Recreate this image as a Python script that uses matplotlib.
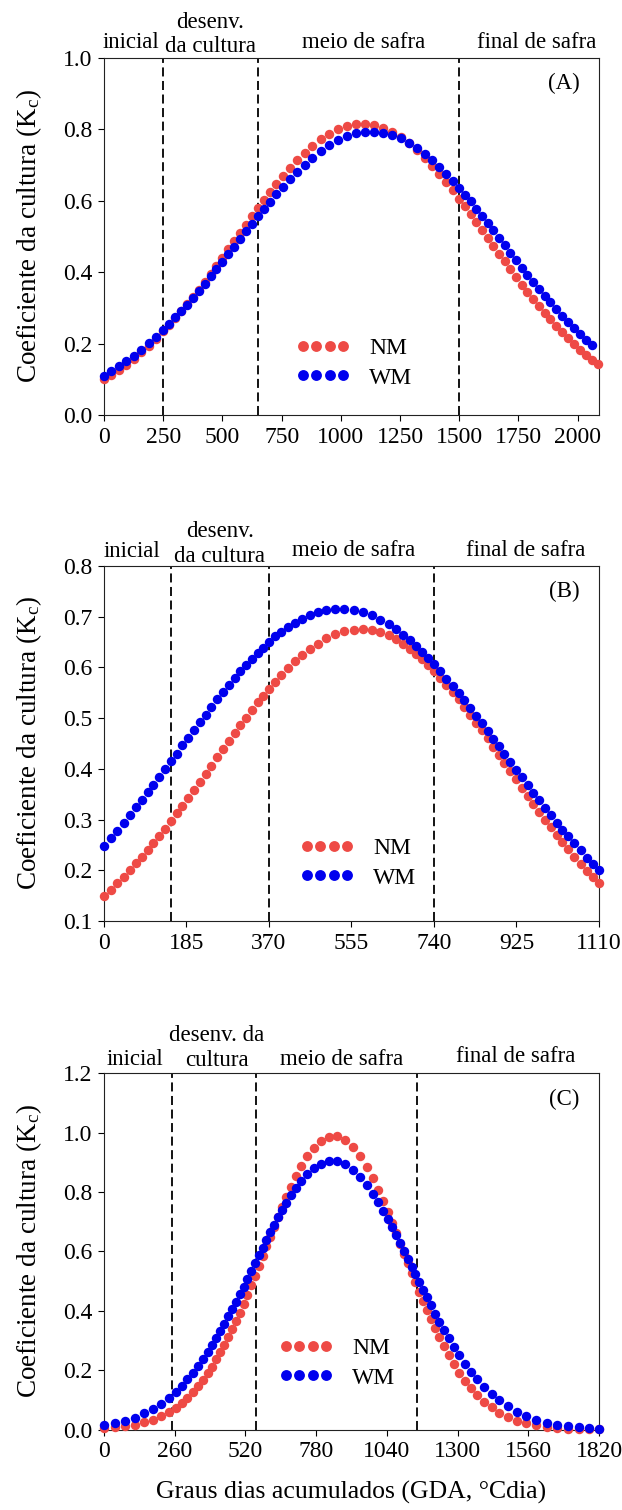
import matplotlib
matplotlib.use("Agg")
import matplotlib.pyplot as plt
from matplotlib.ticker import FormatStrFormatter
from matplotlib.transforms import blended_transform_factory

plt.rcParams["font.family"] = ["Liberation Serif", "DejaVu Serif"]
plt.rcParams["mathtext.fontset"] = "custom"
plt.rcParams["mathtext.rm"] = "Liberation Serif"
plt.rcParams["mathtext.it"] = "Liberation Serif:italic"

NM_COLOR = "#EE4A45"
WM_COLOR = "#0000EE"

# ---- (A) ----
gda_a = [0, 31, 62, 94, 125, 156, 188, 219, 250,
         275, 300, 325, 350, 375, 400, 425, 450, 475, 500, 525, 550, 575, 600, 625, 650,
         675, 701, 728, 756, 785, 815, 847, 880, 915, 951, 988, 1026, 1064, 1103, 1142,
         1180, 1217, 1253, 1288, 1322, 1355, 1386, 1416, 1445, 1473, 1500,
         1524, 1548, 1572, 1596, 1620, 1644, 1668, 1692, 1716, 1740, 1764, 1788, 1812,
         1836, 1860, 1884, 1909, 1934, 1959, 1984, 2009, 2034, 2059, 2084]
kc_nm_a = [0.100, 0.112, 0.126, 0.141, 0.157, 0.175, 0.194, 0.213, 0.234,
           0.252, 0.271, 0.290, 0.310, 0.330, 0.351, 0.373, 0.395, 0.418, 0.441, 0.464,
           0.487, 0.510, 0.533, 0.556, 0.579,
           0.601, 0.624, 0.647, 0.669, 0.692, 0.713, 0.734, 0.754, 0.772, 0.788, 0.800,
           0.809, 0.814, 0.815, 0.811, 0.803, 0.792, 0.778, 0.761, 0.741, 0.720, 0.698,
           0.676, 0.652, 0.629, 0.606,
           0.584, 0.563, 0.541, 0.519, 0.496, 0.474, 0.452, 0.430, 0.408, 0.386, 0.365,
           0.345, 0.325, 0.305, 0.286, 0.268, 0.249, 0.232, 0.215, 0.199, 0.183, 0.169,
           0.155, 0.142]
kc_wm_a = [0.110, 0.122, 0.136, 0.151, 0.166, 0.183, 0.201, 0.219, 0.239,
           0.256, 0.273, 0.291, 0.309, 0.328, 0.348, 0.368, 0.388, 0.408, 0.429, 0.450,
           0.471, 0.493, 0.514, 0.535, 0.556,
           0.576, 0.597, 0.618, 0.639, 0.660, 0.681, 0.701, 0.721, 0.739, 0.756, 0.770,
           0.781, 0.789, 0.793, 0.794, 0.791, 0.784, 0.775, 0.763, 0.748, 0.731, 0.714,
           0.695, 0.676, 0.656, 0.636,
           0.617, 0.598, 0.578, 0.558, 0.538, 0.517, 0.496, 0.476, 0.455, 0.434, 0.413,
           0.393, 0.373, 0.354, 0.334, 0.316, 0.297, 0.278, 0.260, 0.243, 0.227, 0.211,
           0.196]
stages_a = [250, 650, 1500]
xticks_a = [0, 250, 500, 750, 1000, 1250, 1500, 1750, 2000]

# ---- (B) ----
gda_b = [0, 15, 30, 44, 58, 72, 85, 98, 111, 124, 137, 150,
         163, 176, 189, 202, 215, 228, 241, 254, 267, 280, 293, 306, 319, 332, 345, 357, 370,
         384, 398, 413, 428, 444, 461, 479, 498, 518, 539, 560, 581, 601, 620, 638, 655,
         671, 686, 700, 714, 727, 740,
         754, 768, 782, 795, 808, 821, 834, 847, 860, 873, 886, 898, 911, 924, 937, 950,
         963, 976, 989, 1002, 1015, 1028, 1041, 1055, 1069, 1083, 1097, 1110]
kc_nm_b = [0.150, 0.162, 0.175, 0.187, 0.200, 0.214, 0.227, 0.240, 0.254, 0.268, 0.282, 0.297,
           0.312, 0.327, 0.343, 0.359, 0.374, 0.390, 0.406, 0.423, 0.439, 0.454, 0.470, 0.486,
           0.501, 0.516, 0.531, 0.544, 0.558,
           0.572, 0.585, 0.599, 0.612, 0.624, 0.636, 0.647, 0.657, 0.665, 0.671, 0.674, 0.675,
           0.673, 0.669, 0.663, 0.655, 0.646, 0.637, 0.627, 0.616, 0.605, 0.593,
           0.580, 0.566, 0.551, 0.537, 0.522, 0.507, 0.491, 0.476, 0.460, 0.443, 0.427, 0.412,
           0.396, 0.379, 0.363, 0.347, 0.331, 0.315, 0.300, 0.285, 0.270, 0.256, 0.241, 0.227,
           0.213, 0.199, 0.186, 0.174]
kc_wm_b = [0.248, 0.263, 0.278, 0.293, 0.308, 0.324, 0.339, 0.354, 0.369, 0.384, 0.399, 0.415,
           0.430, 0.446, 0.461, 0.477, 0.492, 0.507, 0.522, 0.537, 0.551, 0.565, 0.579, 0.592,
           0.605, 0.617, 0.629, 0.639, 0.650,
           0.661, 0.670, 0.680, 0.688, 0.696, 0.703, 0.709, 0.713, 0.716, 0.716, 0.714, 0.709,
           0.703, 0.694, 0.685, 0.675, 0.664, 0.653, 0.642, 0.630, 0.618, 0.606,
           0.592, 0.578, 0.563, 0.549, 0.535, 0.520, 0.505, 0.490, 0.474, 0.459, 0.444, 0.429,
           0.414, 0.398, 0.383, 0.368, 0.353, 0.338, 0.323, 0.308, 0.294, 0.280, 0.267, 0.253,
           0.239, 0.225, 0.212, 0.201]
stages_b = [150, 370, 740]
xticks_b = [0, 185, 370, 555, 740, 925, 1110]

# ---- (C) ----
gda_c = [0, 40, 78, 114, 148, 180, 210, 238, 264,
         286, 307, 327, 346, 364, 381, 397, 413, 428, 443, 457, 471, 485, 499, 513, 527,
         541, 555, 569, 583, 597, 611, 625, 640, 655, 671, 688, 706, 726, 748, 772, 798,
         826, 855,
         886, 915, 942, 966, 988, 1008, 1026, 1043, 1059, 1074, 1089, 1103, 1117, 1131,
         1145, 1159, 1173, 1187, 1202, 1217, 1233, 1250, 1268, 1287, 1307, 1328, 1350,
         1373, 1398, 1425, 1454, 1485, 1518, 1553, 1590, 1628, 1667, 1706, 1745, 1784, 1820]
kc_nm_c = [0.004, 0.007, 0.011, 0.016, 0.024, 0.033, 0.045, 0.058, 0.074,
           0.090, 0.107, 0.126, 0.146, 0.167, 0.189, 0.212, 0.236, 0.260, 0.286, 0.311,
           0.338, 0.365, 0.394, 0.424, 0.455, 0.486, 0.519, 0.551, 0.584, 0.617, 0.650,
           0.682, 0.717, 0.750, 0.784, 0.819, 0.853, 0.888, 0.921, 0.950, 0.973, 0.987, 0.989,
           0.977, 0.953, 0.921, 0.885, 0.846, 0.807, 0.770, 0.732, 0.696, 0.662, 0.626,
           0.593, 0.560, 0.528, 0.496, 0.464, 0.433, 0.403, 0.372, 0.342, 0.311, 0.281,
           0.250, 0.220, 0.192, 0.165, 0.139, 0.116, 0.094, 0.075, 0.057, 0.042, 0.030,
           0.021, 0.014, 0.009, 0.006, 0.003, 0.002, 0.001, 0.001]
kc_wm_c = [0.014, 0.021, 0.029, 0.040, 0.054, 0.069, 0.087, 0.107, 0.128,
           0.148, 0.169, 0.191, 0.214, 0.238, 0.261, 0.284, 0.308, 0.332, 0.357, 0.381,
           0.405, 0.430, 0.456, 0.481, 0.508, 0.534, 0.560, 0.587, 0.613, 0.639, 0.664,
           0.689, 0.715, 0.739, 0.765, 0.790, 0.814, 0.838, 0.861, 0.881, 0.896, 0.904, 0.904,
           0.894, 0.875, 0.851, 0.824, 0.795, 0.766, 0.738, 0.710, 0.682, 0.655, 0.628,
           0.602, 0.575, 0.549, 0.523, 0.496, 0.470, 0.445, 0.418, 0.391, 0.364, 0.335,
           0.307, 0.278, 0.250, 0.222, 0.195, 0.169, 0.144, 0.120, 0.098, 0.078, 0.060,
           0.045, 0.033, 0.023, 0.016, 0.011, 0.007, 0.005, 0.003]
stages_c = [250, 560, 1150]
xticks_c = [0, 260, 520, 780, 1040, 1300, 1560, 1820]

stage_names = ["inicial", "desenv.", "da cultura", "meio de safra", "final de safra"]
stage_names_c = ["inicial", "desenv. da", "cultura", "meio de safra", "final de safra"]


def draw_panel(ax, gda, nm, wm, stages, xticks, xmax, ylim, ystep, tag,
               labels, label_pos, legend_anchor):
    ax.plot(gda[:len(nm)], nm, "o", color=NM_COLOR, ms=6.8, mew=0,
            clip_on=False, zorder=3, label="NM")
    ax.plot(gda[:len(wm)], wm, "o", color=WM_COLOR, ms=6.8, mew=0,
            clip_on=False, zorder=4, label="WM")

    for s in stages:
        ax.axvline(s, color="black", lw=1.3, ls=(0, (5, 2.5)), zorder=2)

    ax.set_xlim(0, xmax)
    ax.set_ylim(*ylim)
    ax.set_xticks(xticks)
    n = int(round((ylim[1] - ylim[0]) / ystep))
    ax.set_yticks([round(ylim[0] + i * ystep, 2) for i in range(n + 1)])
    ax.yaxis.set_major_formatter(FormatStrFormatter("%.1f"))
    ax.tick_params(direction="out", length=4.5, width=0.8, labelsize=17, pad=4)
    for sp in ax.spines.values():
        sp.set_linewidth(0.8)
        sp.set_color("#222222")

    ax.set_ylabel(r"Coeficiente da cultura (K$_\mathrm{c}$)", fontsize=19.5, va="center")
    ax.yaxis.set_label_coords(-0.152, 0.5)

    trans = blended_transform_factory(ax.transData, ax.transAxes)
    for text, (x, y) in zip(labels, label_pos):
        ax.text(x, y, text, transform=trans, ha="center", va="center", fontsize=16.5)

    ax.text(0.93, 0.928, tag, transform=ax.transAxes, ha="center", va="center",
            fontsize=16.5)

    ax.legend(loc="center left", bbox_to_anchor=legend_anchor, frameon=False,
              numpoints=4, markerscale=1.15, handlelength=2.3, handletextpad=0.8,
              labelspacing=0.35, borderpad=0, borderaxespad=0, fontsize=17)


fig = plt.figure(figsize=(6.22, 15.10), dpi=100)
ax_a = fig.add_axes([0.1672, 0.7252, 0.7958, 0.2364])
ax_b = fig.add_axes([0.1672, 0.3901, 0.7958, 0.2351])
ax_c = fig.add_axes([0.1672, 0.0533, 0.7958, 0.2358])

draw_panel(ax_a, gda_a, kc_nm_a, kc_wm_a, stages_a, xticks_a, 2090, (0.0, 1.0), 0.2, "(A)",
           stage_names,
           [(115, 1.043), (448, 1.099), (448, 1.032), (1095, 1.043), (1826, 1.043)],
           (0.3875, 0.1457))
draw_panel(ax_b, gda_b, kc_nm_b, kc_wm_b, stages_b, xticks_b, 1110, (0.1, 0.8), 0.1, "(B)",
           stage_names,
           [(63, 1.040), (260, 1.097), (260, 1.028), (559, 1.043), (946, 1.043)],
           (0.3956, 0.1634))
draw_panel(ax_c, gda_c, kc_nm_c, kc_wm_c, stages_c, xticks_c, 1820, (0.0, 1.2), 0.2, "(C)",
           stage_names_c,
           [(115, 1.040), (414, 1.108), (414, 1.035), (872, 1.040), (1515, 1.049)],
           (0.3535, 0.187))

ax_c.set_xlabel("Graus dias acumulados (GDA, °Cdia)", fontsize=18.5, va="center")
ax_c.xaxis.set_label_coords(0.5, -0.178)

fig.savefig("out.png", dpi=100)
